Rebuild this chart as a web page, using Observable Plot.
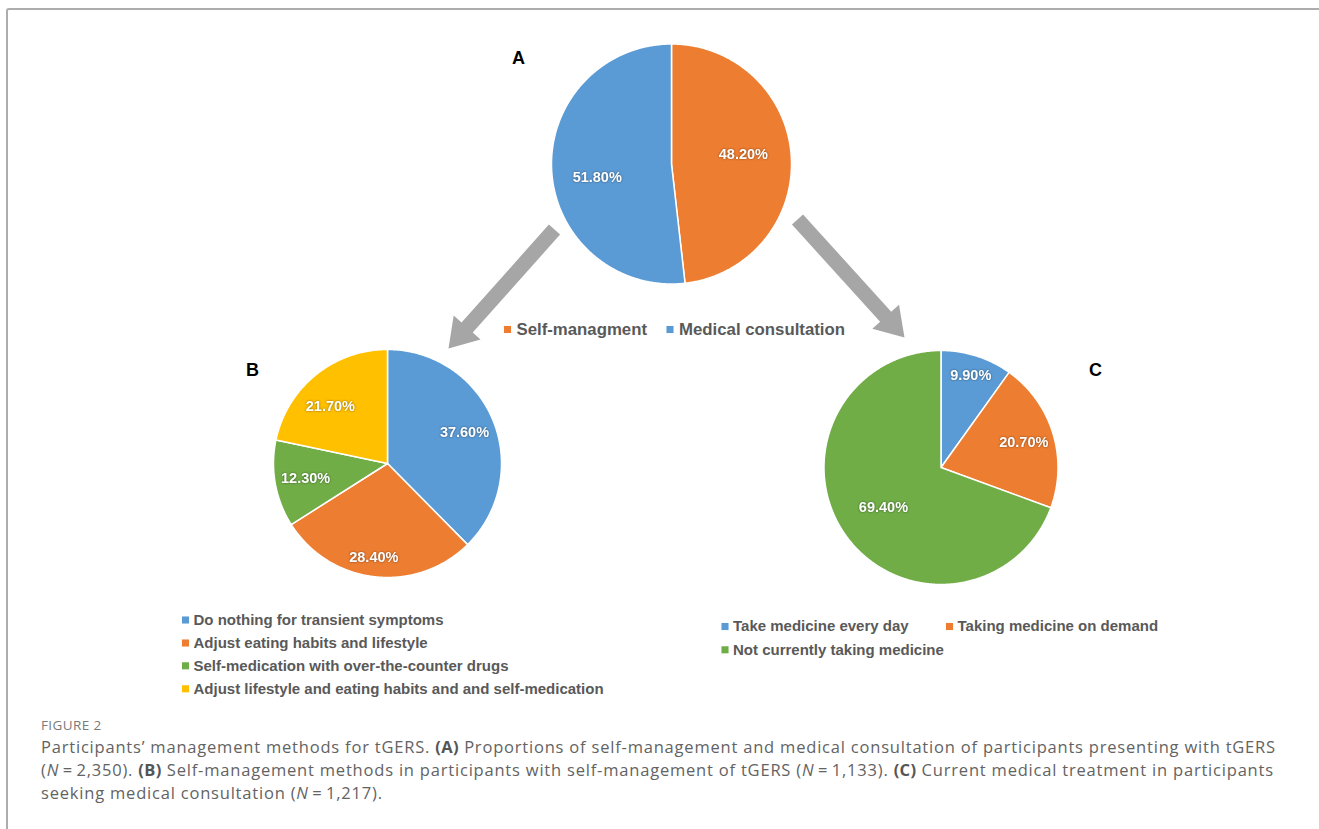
<!DOCTYPE html>
<html>
<head>
<meta charset="utf-8">
<script src="https://cdn.jsdelivr.net/npm/d3@7"></script>
<script src="https://cdn.jsdelivr.net/npm/@observablehq/plot@0.6"></script>
<style>
  html, body { margin: 0; padding: 0; background: #fff; overflow: hidden; }
  #frame { position: absolute; left: 6px; top: 8px; width: 1400px; height: 900px;
           border-top: 2px solid #adadad; border-left: 2px solid #adadad;
           border-top-left-radius: 3px; pointer-events: none; }
  #chart svg { display: block; }
  .slice-label text { filter: drop-shadow(0.8px 0.8px 0.8px rgba(0,0,0,0.45)); }
  #caption { font-family: "Open Sans", "Noto Sans", sans-serif; color: #636363; padding-left: 41px; white-space: nowrap; }
  #caption .fig { font-size: 13.5px; line-height: 20px; margin-top: 3px; letter-spacing: 0.4px; color: #7a7a7a; }
  #caption .txt { font-size: 16.5px; line-height: 23px; margin-top: 0px; letter-spacing: 0.8px; }
  #caption b { font-weight: 700; color: #555; letter-spacing: 0.4px; }
</style>
</head>
<body>
<div id="frame"></div>
<div id="chart"></div>
<div id="caption">
  <div class="fig">FIGURE 2</div>
  <div class="txt">Participants’ management methods for tGERS. <b>(A)</b> Proportions of self-management and medical consultation of participants presenting with tGERS<br>(<i>N</i>&#8201;=&#8201;2,350). <b>(B)</b> Self-management methods in participants with self-management of tGERS (<i>N</i>&#8201;=&#8201;1,133). <b>(C)</b> Current medical treatment in participants<br>seeking medical consultation (<i>N</i>&#8201;=&#8201;1,217).</div>
</div>
<script>
// ---------- data ----------
const catsA = ["Self-managment", "Medical consultation"];
const valsA = [48.2, 51.8];
const catsB = ["Do nothing for transient symptoms", "Adjust eating habits and lifestyle",
               "Self-medication with over-the-counter drugs",
               "Adjust lifestyle and eating habits and and self-medication"];
const valsB = [37.6, 28.4, 12.3, 21.7];
const catsC = ["Take medicine every day", "Taking medicine on demand", "Not currently taking medicine"];
const valsC = [9.9, 20.7, 69.4];
const panelNames = ["A", "B", "C"];

// ---------- styling ----------
const BLUE = "#5b9bd5", ORANGE = "#ed7d31", GREEN = "#70ad47", YELLOW = "#ffc000";
const colorDomain = [...catsA, ...catsB, ...catsC];
const colorRange = [ORANGE, BLUE, BLUE, ORANGE, GREEN, YELLOW, BLUE, ORANGE, GREEN];

const W = 1319, H = 712;

// layout of each pie (pixel geometry, label radius factors and nudges)
const pies = [
  {name: "A", cats: catsA, vals: valsA, cx: 671, cy: 163.5, r: 120, lr: [0.6, 0.62], ldx: [0, 0], ldy: [-6, 9]},
  {name: "B", cats: catsB, vals: valsB, cx: 387, cy: 463, r: 114, lr: [0.73, 0.83, 0.73, 0.74], ldx: [0, -3, 0, -4], ldy: [0, 0, 0, 8]},
  {name: "C", cats: catsC, vals: valsC, cx: 940.5, cy: 467, r: 117, lr: [0.83, 0.74, 0.6], ldx: [0, 0, 0], ldy: [0, 0, 0]}
];

const slicePts = [];
const labels = [];
for (const p of pies) {
  const total = d3.sum(p.vals);
  let a0 = 0;
  p.vals.forEach((v, i) => {
    const a1 = a0 + v / total * 2 * Math.PI;
    const key = p.name + i;
    slicePts.push({key, cat: p.cats[i], x: p.cx, y: p.cy});
    const n = Math.max(2, Math.ceil((a1 - a0) / (Math.PI / 360)));
    for (let k = 0; k <= n; k++) {
      const a = a0 + (a1 - a0) * k / n;
      slicePts.push({key, cat: p.cats[i], x: p.cx + p.r * Math.sin(a), y: p.cy - p.r * Math.cos(a)});
    }
    const am = (a0 + a1) / 2, lr = p.r * p.lr[i];
    labels.push({x: p.cx + lr * Math.sin(am) + p.ldx[i], y: p.cy - lr * Math.cos(am) + p.ldy[i], text: v.toFixed(2) + "%"});
    a0 = a1;
  });
}

// arrows (decorative connectors)
function arrowPoly(id, sx, sy, ex, ey, w = 15, hw = 36, hl = 28) {
  const L = Math.hypot(ex - sx, ey - sy), ux = (ex - sx) / L, uy = (ey - sy) / L;
  const nx = -uy, ny = ux, bx = ex - ux * hl, by = ey - uy * hl;
  return [
    [sx + nx * w / 2, sy + ny * w / 2], [bx + nx * w / 2, by + ny * w / 2], [bx + nx * hw / 2, by + ny * hw / 2],
    [ex, ey], [bx - nx * hw / 2, by - ny * hw / 2], [bx - nx * w / 2, by - ny * w / 2], [sx - nx * w / 2, sy - ny * w / 2]
  ].map(([x, y]) => ({id, x, y}));
}
const arrows = [...arrowPoly("L", 554, 229, 448, 348), ...arrowPoly("R", 797, 219, 904, 337)];

// panel letters
const panelPos = [[518, 58], [252, 370], [1095, 370]];
const panels = panelNames.map((t, i) => ({t, x: panelPos[i][0], y: panelPos[i][1]}));

// legends
const legA = catsA.map((c, i) => ({cat: c, x: [507, 669.5][i], y: 329}));
const legB = catsB.map((c, i) => ({cat: c, x: 185, y: [619.5, 642.5, 665.3, 688.3][i]}));
const legC = catsC.map((c, i) => ({cat: c, x: [724.5, 949, 724.5][i], y: [626, 626, 649.3][i]}));

const font = "'Liberation Sans', Arial, sans-serif";
const chart = Plot.plot({
  width: W, height: H, margin: 0,
  x: {domain: [0, W], range: [0, W], axis: null},
  y: {domain: [0, H], range: [0, H], axis: null},
  color: {type: "ordinal", domain: colorDomain, range: colorRange},
  style: {fontFamily: font, background: "transparent", overflow: "visible"},
  marks: [
    Plot.line(arrows, {x: "x", y: "y", z: "id", fill: "#a6a6a6", stroke: "none", curve: "linear-closed"}),
    Plot.line(slicePts, {x: "x", y: "y", z: "key", fill: "cat", stroke: "white", strokeWidth: 1.5, strokeLinejoin: "round", curve: "linear-closed"}),
    Plot.text(labels, {x: "x", y: "y", text: "text", fill: "white", fontWeight: "bold", fontSize: 14.5, className: "slice-label"}),
    Plot.text(panels, {x: "x", y: "y", text: "t", fill: "black", fontWeight: "bold", fontSize: 18}),
    Plot.dot([...legA, ...legB, ...legC], {x: "x", y: "y", fill: "cat", symbol: "square", r: 4, stroke: "none"}),
    Plot.text(legA, {x: "x", y: "y", text: "cat", dx: 9, textAnchor: "start", fill: "#595959", fontWeight: "bold", fontSize: 16.8}),
    Plot.text([...legB, ...legC], {x: "x", y: "y", text: "cat", dx: 8, textAnchor: "start", fill: "#595959", fontWeight: "bold", fontSize: 15})
  ]
});
document.getElementById("chart").appendChild(chart);
</script>
</body>
</html>
